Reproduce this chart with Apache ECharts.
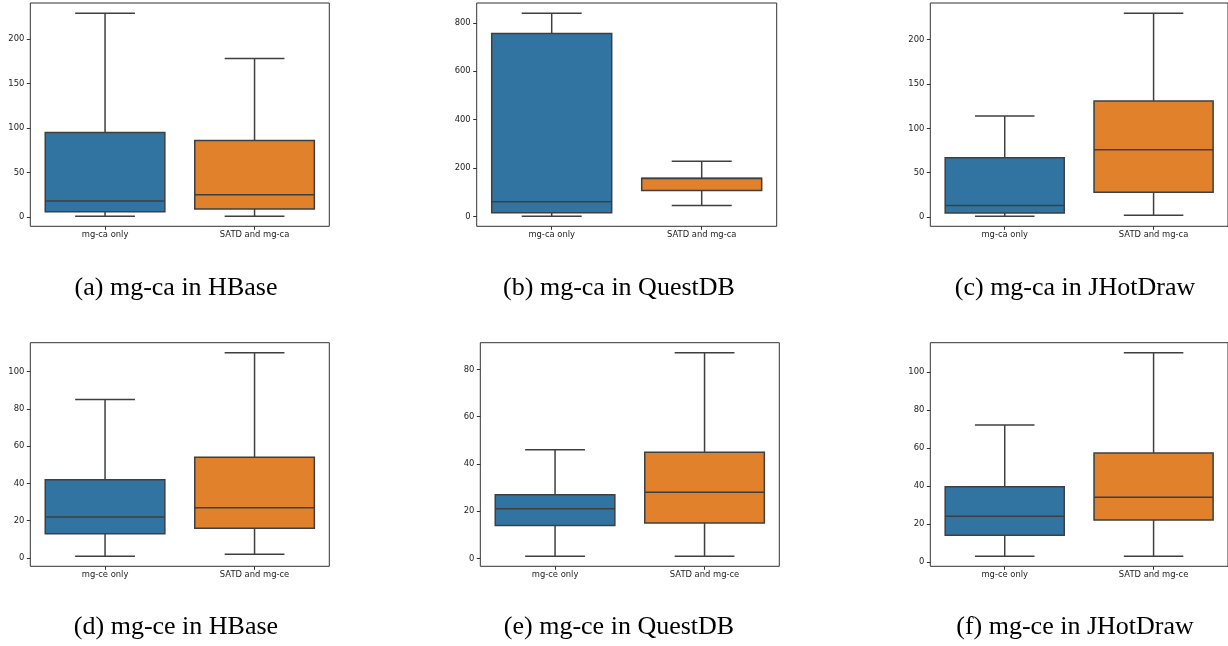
<!DOCTYPE html>
<html><head><meta charset="utf-8">
<script src="https://cdn.jsdelivr.net/npm/echarts@6/dist/echarts.min.js"></script>
<style>html,body{margin:0;padding:0;background:#fff}#c{width:1228px;height:646px}</style>
</head><body><div id="c"></div>
<script>
// Box statistics: [min whisker, Q1, median, Q3, max whisker]
const catsCA = ['mg-ca only', 'SATD and mg-ca'];
const catsCE = ['mg-ce only', 'SATD and mg-ce'];
const hbaseCA    = [[1, 6, 18, 95, 229],   [1, 9, 25, 86, 178]];
const questdbCA  = [[1, 15, 60, 756, 840], [45, 107, 157, 158, 228]];
const jhotdrawCA = [[1, 4.5, 13, 67, 114], [2, 28, 76, 131, 230]];
const hbaseCE    = [[1, 13, 22, 42, 85],   [2, 16, 27, 54, 110]];
const questdbCE  = [[1, 14, 21, 27, 46],   [1, 15, 28, 45, 87]];
const jhotdrawCE = [[3, 14, 24, 39.5, 72], [3, 22, 34, 57.3, 110]];
const ticksA = [0, 50, 100, 150, 200];
const ticksB = [0, 200, 400, 600, 800];
const ticksC = [0, 50, 100, 150, 200];
const ticksD = [0, 20, 40, 60, 80, 100];
const ticksE = [0, 20, 40, 60, 80];
const ticksF = [0, 20, 40, 60, 80, 100];
const captions = ['(a) mg-ca in HBase', '(b) mg-ca in QuestDB', '(c) mg-ca in JHotDraw',
                  '(d) mg-ce in HBase', '(e) mg-ce in QuestDB', '(f) mg-ce in JHotDraw'];

const panels = [
  {cats: catsCA, data: hbaseCA, ticks: ticksA},
  {cats: catsCA, data: questdbCA, ticks: ticksB},
  {cats: catsCA, data: jhotdrawCA, ticks: ticksC},
  {cats: catsCE, data: hbaseCE, ticks: ticksD},
  {cats: catsCE, data: questdbCE, ticks: ticksE},
  {cats: catsCE, data: jhotdrawCE, ticks: ticksF}
];
const grids = [
  {left: 30.3, top: 3, width: 299, height: 223.3},
  {left: 476.7, top: 3, width: 300, height: 223.3},
  {left: 930.3, top: 3, width: 299.4, height: 223.3},
  {left: 30.3, top: 342.7, width: 299, height: 223.6},
  {left: 480.3, top: 342.7, width: 299, height: 223.6},
  {left: 930.3, top: 342.7, width: 299.4, height: 223.6}
];
const capPos = [[176, 288], [619, 288], [1075, 288], [176, 627], [619, 627], [1075, 627]];
const boxColors = ['#3274a1', '#e1812c'];
const edge = '#3f3f3f';
const labelFont = {fontFamily: 'DejaVu Sans', fontSize: 8.4, color: '#222'};

function renderBox(params, api) {
  const x = api.value(0);
  const v = [api.value(1), api.value(2), api.value(3), api.value(4), api.value(5)];
  const band = api.size([1, 0])[0];
  const bw = band * 0.8, cap = bw * 0.5;
  const cx = api.coord([x, 0])[0];
  const py = val => api.coord([x, val])[1];
  const ls = {stroke: edge, lineWidth: 1.5};
  return {type: 'group', children: [
    {type: 'line', shape: {x1: cx, y1: py(v[0]), x2: cx, y2: py(v[1])}, style: ls},
    {type: 'line', shape: {x1: cx, y1: py(v[3]), x2: cx, y2: py(v[4])}, style: ls},
    {type: 'line', shape: {x1: cx - cap / 2, y1: py(v[0]), x2: cx + cap / 2, y2: py(v[0])}, style: ls},
    {type: 'line', shape: {x1: cx - cap / 2, y1: py(v[4]), x2: cx + cap / 2, y2: py(v[4])}, style: ls},
    {type: 'rect', shape: {x: cx - bw / 2, y: py(v[3]), width: bw, height: py(v[1]) - py(v[3])},
      style: {fill: boxColors[params.dataIndex], stroke: edge, lineWidth: 1.5}},
    {type: 'line', shape: {x1: cx - bw / 2, y1: py(v[2]), x2: cx + bw / 2, y2: py(v[2])}, style: ls}
  ]};
}

const option = {
  animation: false,
  backgroundColor: '#fff',
  grid: grids.map(g => Object.assign({show: true, borderColor: '#333', borderWidth: 1, backgroundColor: 'transparent'}, g)),
  xAxis: panels.map((p, i) => ({
    type: 'category', gridIndex: i, data: p.cats, position: 'bottom',
    axisLine: {show: false, onZero: false},
    axisTick: {show: true, alignWithLabel: true, length: 3.5, lineStyle: {color: '#333', width: 1}},
    axisLabel: Object.assign({margin: 5, interval: 0}, labelFont),
    splitLine: {show: false}
  })),
  yAxis: panels.map((p, i) => {
    const lo = Math.min(...p.data.map(d => d[0]));
    const hi = Math.max(...p.data.map(d => d[4]));
    const pad = (hi - lo) * 0.05;
    return {
      type: 'value', gridIndex: i, min: lo - pad, max: hi + pad, position: 'left',
      axisLine: {show: false, onZero: false},
      axisTick: {show: true, length: 3.5, customValues: p.ticks, lineStyle: {color: '#333', width: 1}},
      axisLabel: Object.assign({margin: 6, customValues: p.ticks}, labelFont),
      splitLine: {show: false}
    };
  }),
  series: panels.map((p, i) => ({
    type: 'custom', xAxisIndex: i, yAxisIndex: i,
    renderItem: renderBox,
    encode: {x: 0, y: [1, 2, 3, 4, 5]},
    data: p.data.map((d, k) => [k].concat(d))
  })),
  graphic: captions.map((t, i) => ({
    type: 'text', x: capPos[i][0], y: capPos[i][1],
    style: {text: t, fill: '#000', font: '26px "Liberation Serif"', align: 'center', verticalAlign: 'middle'}
  }))
};
const chart = echarts.init(document.getElementById('c'), null, {renderer: 'canvas'});
chart.setOption(option);
</script></body></html>
